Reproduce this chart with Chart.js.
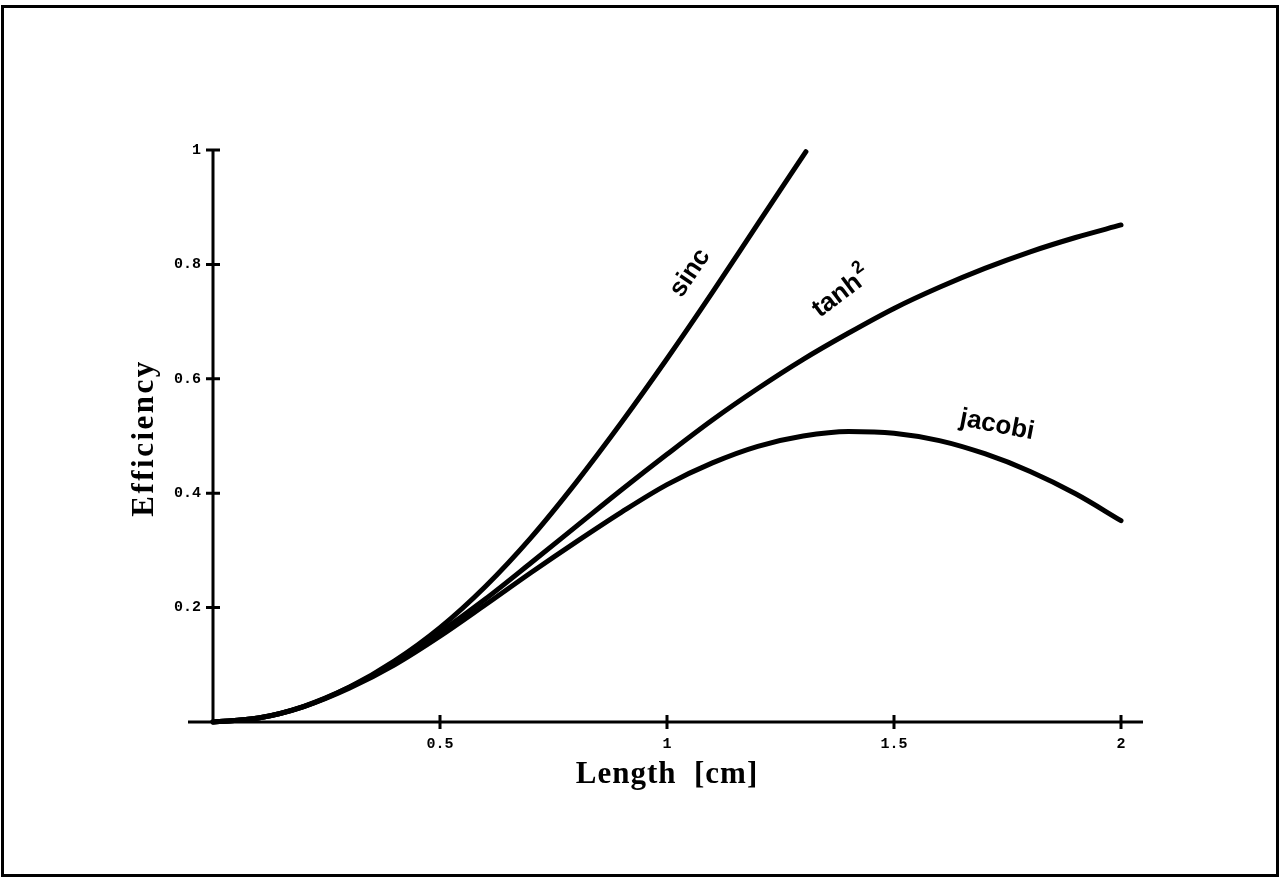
<!DOCTYPE html>
<html>
<head>
<meta charset="utf-8">
<script src="https://cdn.jsdelivr.net/npm/chart.js@4.4.1/dist/chart.umd.min.js"></script>
<style>
  html, body { margin: 0; padding: 0; background: #fff; }
  #wrap { position: relative; width: 1279px; height: 880px; }
</style>
</head>
<body>
<div id="wrap"><canvas id="effChart"></canvas></div>
<script>
// values
const lengthCm = [0, 0.1, 0.2, 0.3, 0.4, 0.5, 0.6, 0.7, 0.8, 0.9, 1.0,
                  1.1, 1.2, 1.3, 1.4, 1.5, 1.6, 1.7, 1.8, 1.9, 2.0];
const sincLength = [0, 0.1, 0.2, 0.3, 0.4, 0.5, 0.6, 0.7, 0.8, 0.9, 1.0, 1.1, 1.2, 1.306];
const sincEff = [0, 0.007, 0.027, 0.061, 0.107, 0.165, 0.237, 0.322, 0.419, 0.524, 0.635, 0.751, 0.871, 0.997];
const tanh2Eff = [0, 0.007, 0.0275, 0.0606, 0.104, 0.157, 0.215, 0.278, 0.342, 0.406, 0.468,
                  0.528, 0.583, 0.634, 0.680, 0.723, 0.760, 0.793, 0.822, 0.847, 0.869];
const jacobiEff = [0, 0.0069, 0.027, 0.059, 0.100, 0.150, 0.205, 0.261, 0.315, 0.367, 0.415,
                   0.453, 0.482, 0.500, 0.508, 0.505, 0.492, 0.469, 0.438, 0.399, 0.352];

const xTicks = [0.5, 1, 1.5, 2];
const xTickLabels = ['0.5', '1', '1.5', '2'];
const yTicks = [0.2, 0.4, 0.6, 0.8, 1];
const yTickLabels = ['0.2', '0.4', '0.6', '0.8', '1'];

const curveNames = ['sinc', 'tanh', 'jacobi'];

function pairs(xs, ys) {
  return ys.map((v, i) => ({ x: xs[i], y: v }));
}

// where the curve names sit (data coords) and their tilt
const nameSpots = [
  { x: 1.051, y: 0.785, angle: -56, sup: '' },
  { x: 1.375, y: 0.745, angle: -37, sup: '2' },
  { x: 1.727, y: 0.519, angle: 11, sup: '' }
];

const axesPlugin = {
  id: 'axesPlugin',
  beforeDatasetsDraw(chart) {
    const { ctx, scales: { x, y } } = chart;
    const x0 = x.getPixelForValue(0);
    const y0 = y.getPixelForValue(0);
    ctx.save();
    ctx.strokeStyle = '#000';
    ctx.lineWidth = 3;
    ctx.strokeRect(2.5, 6.5, 1275, 869);
    ctx.beginPath();
    ctx.moveTo(x0 - 25, y0);
    ctx.lineTo(x.getPixelForValue(2) + 22, y0);
    ctx.moveTo(x0, y0);
    ctx.lineTo(x0, y.getPixelForValue(1));
    xTicks.forEach(v => {
      const px = x.getPixelForValue(v);
      ctx.moveTo(px, y0 - 7);
      ctx.lineTo(px, y0 + 7);
    });
    yTicks.forEach(v => {
      const py = y.getPixelForValue(v);
      ctx.moveTo(x0 - 7, py);
      ctx.lineTo(x0 + 7, py);
    });
    ctx.stroke();
    ctx.restore();
  },
  afterDraw(chart) {
    const { ctx, chartArea, scales: { x, y } } = chart;
    ctx.save();
    ctx.fillStyle = '#000';

    // axis titles
    ctx.font = 'bold 31px "Liberation Serif", serif';
    ctx.textAlign = 'center';
    ctx.textBaseline = 'alphabetic';
    ctx.letterSpacing = '1px';
    ctx.fillText('Length  [cm]', (chartArea.left + chartArea.right) / 2, 783);

    ctx.save();
    ctx.letterSpacing = '2.5px';
    ctx.translate(153, (chartArea.top + chartArea.bottom) / 2 + 2);
    ctx.rotate(-Math.PI / 2);
    ctx.fillText('Efficiency', 0, 0);
    ctx.restore();

    // curve names
    ctx.letterSpacing = '0px';
    ctx.textBaseline = 'middle';
    curveNames.forEach((name, i) => {
      const s = nameSpots[i];
      ctx.save();
      ctx.translate(x.getPixelForValue(s.x), y.getPixelForValue(s.y));
      ctx.rotate(s.angle * Math.PI / 180);
      ctx.font = 'bold 26px "Liberation Sans", sans-serif';
      ctx.textAlign = 'center';
      ctx.fillText(name, 0, 0);
      if (s.sup) {
        const w = ctx.measureText(name).width;
        ctx.font = 'bold 18px "Liberation Sans", sans-serif';
        ctx.textAlign = 'left';
        ctx.fillText(s.sup, w / 2 + 1, -10);
      }
      ctx.restore();
    });
    ctx.restore();
  }
};

const lineStyle = {
  borderColor: '#000',
  borderWidth: 5,
  pointRadius: 0,
  showLine: true,
  fill: false,
  clip: false,
  cubicInterpolationMode: 'monotone',
  borderCapStyle: 'round',
  borderJoinStyle: 'round'
};

const tickFont = { family: '"Liberation Mono", monospace', size: 15, weight: 'bold' };

const ctx = document.getElementById('effChart').getContext('2d');
const effChart = new Chart(ctx, {
  type: 'scatter',
  data: {
    datasets: [
      Object.assign({ label: curveNames[0], data: pairs(sincLength, sincEff) }, lineStyle),
      Object.assign({ label: curveNames[1], data: pairs(lengthCm, tanh2Eff) }, lineStyle),
      Object.assign({ label: curveNames[2], data: pairs(lengthCm, jacobiEff) }, lineStyle)
    ]
  },
  options: {
    responsive: true,
    maintainAspectRatio: false,
    animation: false,
    devicePixelRatio: 1,
    layout: {
      padding: { left: 0, top: 150, right: 158, bottom: 108 }
    },
    scales: {
      x: {
        type: 'linear',
        min: 0,
        max: 2,
        grid: { display: false, drawTicks: false },
        border: { display: false },
        afterBuildTicks: scale => { scale.ticks = xTicks.map(v => ({ value: v })); },
        afterFit: scale => { scale.height = 50; },
        ticks: {
          autoSkip: false,
          maxRotation: 0,
          padding: 13,
          color: '#000',
          font: tickFont,
          callback: v => xTickLabels[xTicks.indexOf(v)]
        }
      },
      y: {
        type: 'linear',
        min: 0,
        max: 1,
        grid: { display: false, drawTicks: false },
        border: { display: false },
        afterBuildTicks: scale => { scale.ticks = yTicks.map(v => ({ value: v })); },
        afterFit: scale => { scale.width = 213; },
        ticks: {
          autoSkip: false,
          padding: 12,
          color: '#000',
          font: tickFont,
          callback: v => yTickLabels[yTicks.indexOf(v)]
        }
      }
    },
    plugins: {
      legend: { display: false },
      tooltip: { enabled: false }
    }
  },
  plugins: [axesPlugin]
});
</script>
</body>
</html>
